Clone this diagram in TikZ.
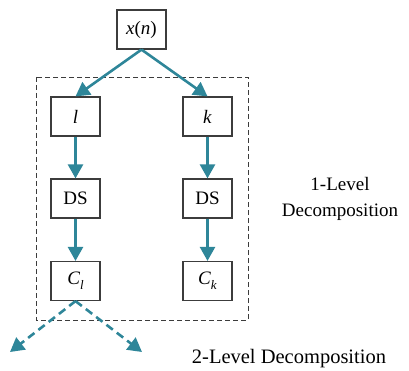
\documentclass[tikz,border=0pt]{standalone}
\usepackage{fontspec}
\setmainfont{Liberation Serif}
\usetikzlibrary{arrows.meta}
\definecolor{flow}{RGB}{46,134,153}
\definecolor{edge}{RGB}{60,60,60}
\begin{document}
\begin{tikzpicture}[x=1pt,y=-1pt,
  blk/.style={draw=edge,line width=1.2pt,fill=white,minimum width=49pt,minimum height=39pt,inner sep=0pt,font=\fontsize{19}{22}\selectfont},
  lbl/.style={font=\fontsize{19}{26}\selectfont,align=center},
  flowarrow/.style={draw=flow,line width=2.6pt,-{Triangle[length=14pt,width=15pt]}},
  dasharrow/.style={flowarrow,dash pattern=on 8pt off 5pt}]
\useasboundingbox (0,0) rectangle (409,371);
% dashed frame around the first decomposition level
\draw[edge,line width=0.9pt,dash pattern=on 5pt off 3pt] (36,77) rectangle (248,320);
% blocks
\node[blk] (x) at (141.5,29.5) {\textit{x}(\textit{n})};
\node[blk] (l) at (75.5,116.5) {\textit{l}};
\node[blk] (k) at (207.5,116.5) {\textit{k}};
\node[blk] (dsl) at (75.5,198.5) {DS};
\node[blk] (dsk) at (207.5,198.5) {DS};
\node[blk] (cl) at (75.5,281) {\textit{C}\raisebox{-0.25em}{\fontsize{13}{15}\selectfont\textit{l}}};
\node[blk] (ck) at (207.5,281) {\textit{C}\raisebox{-0.25em}{\fontsize{13}{15}\selectfont\textit{k}}};
% free ends of the next level
\coordinate (nl) at (10,352);
\coordinate (nr) at (142,352);
% connectors
\draw[flowarrow] (x.south) -- (l.north);
\draw[flowarrow] (x.south) -- (k.north);
\draw[flowarrow] (l) -- (dsl);
\draw[flowarrow] (k) -- (dsk);
\draw[flowarrow] (dsl) -- (cl);
\draw[flowarrow] (dsk) -- (ck);
\draw[dasharrow] (cl.south) -- (nl);
\draw[dasharrow] (cl.south) -- (nr);
% level captions
\node[lbl] (lev1) at (340,199) {1-Level\\Decomposition};
\node[lbl,font=\fontsize{20.5}{24}\selectfont] (lev2) at (289,359) {2-Level Decomposition};
\end{tikzpicture}
\end{document}
